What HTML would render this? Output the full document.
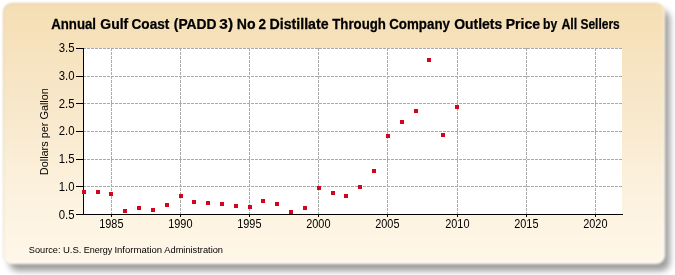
<!DOCTYPE html>
<html><head><meta charset="utf-8"><style>
html,body{margin:0;padding:0;width:675px;height:275px;overflow:hidden;background:#fff;}
#shadow{position:absolute;left:8.5px;top:9.5px;width:661px;height:261.8px;border-radius:9px;background:rgba(0,0,0,0.38);filter:blur(3px);}
#panel{position:absolute;left:3px;top:3px;width:661.5px;height:260.8px;border-radius:9px;
background:linear-gradient(to bottom,#f5deb3 0%,#f8e8cb 40%,#fcf1dd 70%,#fff7e9 100%);box-shadow:inset -1.5px -1.5px 1px rgba(255,255,255,0.6),inset 1px 1px 1px rgba(90,90,40,0.13);filter:blur(1px);}
svg{position:absolute;left:0;top:0;will-change:transform;}
.t{font-family:"Liberation Sans",sans-serif;font-size:11px;fill:#000;}
.tk{font-family:"Liberation Sans",sans-serif;font-size:12px;fill:#000;}
.title{font-family:"Liberation Sans",sans-serif;font-size:14px;font-weight:bold;fill:#000;stroke:#000;stroke-width:0.25px;}
.src{font-family:"Liberation Sans",sans-serif;font-size:9.5px;fill:#000;}
</style></head><body>
<div id="shadow"></div><div id="panel"></div>
<svg width="675" height="275" viewBox="0 0 675 275">
<rect x="83" y="48" width="539" height="166" fill="#fff"/>
<line x1="83" y1="48.5" x2="622" y2="48.5" stroke="#aaaaaa" stroke-width="1" stroke-dasharray="3 1"/>
<line x1="83" y1="76.5" x2="622" y2="76.5" stroke="#aaaaaa" stroke-width="1" stroke-dasharray="3 1"/>
<line x1="83" y1="103.5" x2="622" y2="103.5" stroke="#aaaaaa" stroke-width="1" stroke-dasharray="3 1"/>
<line x1="83" y1="131.5" x2="622" y2="131.5" stroke="#aaaaaa" stroke-width="1" stroke-dasharray="3 1"/>
<line x1="83" y1="159.5" x2="622" y2="159.5" stroke="#aaaaaa" stroke-width="1" stroke-dasharray="3 1"/>
<line x1="83" y1="186.5" x2="622" y2="186.5" stroke="#aaaaaa" stroke-width="1" stroke-dasharray="3 1"/>
<line x1="111.5" y1="48" x2="111.5" y2="214" stroke="#aaaaaa" stroke-width="1" stroke-dasharray="3 1"/>
<line x1="180.5" y1="48" x2="180.5" y2="214" stroke="#aaaaaa" stroke-width="1" stroke-dasharray="3 1"/>
<line x1="249.5" y1="48" x2="249.5" y2="214" stroke="#aaaaaa" stroke-width="1" stroke-dasharray="3 1"/>
<line x1="318.5" y1="48" x2="318.5" y2="214" stroke="#aaaaaa" stroke-width="1" stroke-dasharray="3 1"/>
<line x1="387.5" y1="48" x2="387.5" y2="214" stroke="#aaaaaa" stroke-width="1" stroke-dasharray="3 1"/>
<line x1="457.5" y1="48" x2="457.5" y2="214" stroke="#aaaaaa" stroke-width="1" stroke-dasharray="3 1"/>
<line x1="526.5" y1="48" x2="526.5" y2="214" stroke="#aaaaaa" stroke-width="1" stroke-dasharray="3 1"/>
<line x1="595.5" y1="48" x2="595.5" y2="214" stroke="#aaaaaa" stroke-width="1" stroke-dasharray="3 1"/>
<rect x="83" y="48" width="1" height="167" fill="#000"/>
<rect x="83" y="214" width="540" height="1" fill="#000"/>
<rect x="76" y="48" width="7" height="1" fill="#000"/>
<text transform="translate(74.6,51.6) scale(0.95,1)" text-anchor="end" class="tk">3.5</text>
<rect x="76" y="76" width="7" height="1" fill="#000"/>
<text transform="translate(74.6,79.7) scale(0.95,1)" text-anchor="end" class="tk">3.0</text>
<rect x="76" y="103" width="7" height="1" fill="#000"/>
<text transform="translate(74.6,107.7) scale(0.95,1)" text-anchor="end" class="tk">2.5</text>
<rect x="76" y="131" width="7" height="1" fill="#000"/>
<text transform="translate(74.6,134.6) scale(0.95,1)" text-anchor="end" class="tk">2.0</text>
<rect x="76" y="159" width="7" height="1" fill="#000"/>
<text transform="translate(74.6,162.5) scale(0.95,1)" text-anchor="end" class="tk">1.5</text>
<rect x="76" y="186" width="7" height="1" fill="#000"/>
<text transform="translate(74.6,190.7) scale(0.95,1)" text-anchor="end" class="tk">1.0</text>
<rect x="76" y="214" width="7" height="1" fill="#000"/>
<text transform="translate(74.6,218.7) scale(0.95,1)" text-anchor="end" class="tk">0.5</text>
<rect x="111" y="214" width="1" height="3" fill="#000"/>
<text transform="translate(111.3,227.6) scale(0.91,1)" text-anchor="middle" class="tk">1985</text>
<rect x="180" y="214" width="1" height="3" fill="#000"/>
<text transform="translate(180.3,227.6) scale(0.91,1)" text-anchor="middle" class="tk">1990</text>
<rect x="249" y="214" width="1" height="3" fill="#000"/>
<text transform="translate(249.3,227.6) scale(0.91,1)" text-anchor="middle" class="tk">1995</text>
<rect x="318" y="214" width="1" height="3" fill="#000"/>
<text transform="translate(318.3,227.6) scale(0.91,1)" text-anchor="middle" class="tk">2000</text>
<rect x="387" y="214" width="1" height="3" fill="#000"/>
<text transform="translate(387.3,227.6) scale(0.91,1)" text-anchor="middle" class="tk">2005</text>
<rect x="457" y="214" width="1" height="3" fill="#000"/>
<text transform="translate(457.3,227.6) scale(0.91,1)" text-anchor="middle" class="tk">2010</text>
<rect x="526" y="214" width="1" height="3" fill="#000"/>
<text transform="translate(526.3,227.6) scale(0.91,1)" text-anchor="middle" class="tk">2015</text>
<rect x="595" y="214" width="1" height="3" fill="#000"/>
<text transform="translate(595.3,227.6) scale(0.91,1)" text-anchor="middle" class="tk">2020</text>
<rect x="82" y="190" width="4" height="4" fill="#d2041e"/>
<rect x="96" y="190" width="4" height="4" fill="#d2041e"/>
<rect x="109" y="192" width="4" height="4" fill="#d2041e"/>
<rect x="123" y="209" width="4" height="4" fill="#d2041e"/>
<rect x="137" y="206" width="4" height="4" fill="#d2041e"/>
<rect x="151" y="208" width="4" height="4" fill="#d2041e"/>
<rect x="165" y="203" width="4" height="4" fill="#d2041e"/>
<rect x="179" y="194" width="4" height="4" fill="#d2041e"/>
<rect x="192" y="200" width="4" height="4" fill="#d2041e"/>
<rect x="206" y="201" width="4" height="4" fill="#d2041e"/>
<rect x="220" y="202" width="4" height="4" fill="#d2041e"/>
<rect x="234" y="204" width="4" height="4" fill="#d2041e"/>
<rect x="248" y="205" width="4" height="4" fill="#d2041e"/>
<rect x="261" y="199" width="4" height="4" fill="#d2041e"/>
<rect x="275" y="202" width="4" height="4" fill="#d2041e"/>
<rect x="289" y="210" width="4" height="4" fill="#d2041e"/>
<rect x="303" y="206" width="4" height="4" fill="#d2041e"/>
<rect x="317" y="186" width="4" height="4" fill="#d2041e"/>
<rect x="331" y="191" width="4" height="4" fill="#d2041e"/>
<rect x="344" y="194" width="4" height="4" fill="#d2041e"/>
<rect x="358" y="185" width="4" height="4" fill="#d2041e"/>
<rect x="372" y="169" width="4" height="4" fill="#d2041e"/>
<rect x="386" y="134" width="4" height="4" fill="#d2041e"/>
<rect x="400" y="120" width="4" height="4" fill="#d2041e"/>
<rect x="414" y="109" width="4" height="4" fill="#d2041e"/>
<rect x="427" y="58" width="4" height="4" fill="#d2041e"/>
<rect x="441" y="133" width="4" height="4" fill="#d2041e"/>
<rect x="455" y="105" width="4" height="4" fill="#d2041e"/>
<text transform="translate(51.20,28.9) scale(0.945,1)" class="title">Annual</text>
<text transform="translate(100.30,28.9) scale(0.996,1)" class="title">Gulf</text>
<text transform="translate(131.53,28.9) scale(0.974,1)" class="title">Coast</text>
<text transform="translate(173.81,28.9) scale(0.988,1)" class="title">(PADD</text>
<text transform="translate(219.35,28.9) scale(1.100,1)" class="title">3)</text>
<text transform="translate(236.79,28.9) scale(1.006,1)" class="title">No</text>
<text transform="translate(258.50,28.9) scale(0.971,1)" class="title">2</text>
<text transform="translate(269.49,28.9) scale(1.014,1)" class="title">Distillate</text>
<text transform="translate(332.30,28.9) scale(0.945,1)" class="title">Through</text>
<text transform="translate(389.25,28.9) scale(0.952,1)" class="title">Company</text>
<text transform="translate(454.20,28.9) scale(0.998,1)" class="title">Outlets</text>
<text transform="translate(505.70,28.9) scale(1.003,1)" class="title">Price</text>
<text transform="translate(543.03,28.9) scale(0.867,1)" class="title">by</text>
<text transform="translate(561.40,28.9) scale(0.888,1)" class="title">All</text>
<text transform="translate(580.44,28.9) scale(0.856,1)" class="title">Sellers</text>
<text transform="translate(28.73,253) scale(0.971,1)" class="src">Source:</text>
<text transform="translate(62.89,253) scale(1.006,1)" class="src">U.S.</text>
<text transform="translate(83.64,253) scale(0.955,1)" class="src">Energy</text>
<text transform="translate(114.39,253) scale(1.007,1)" class="src">Information</text>
<text transform="translate(164.30,253) scale(0.977,1)" class="src">Administration</text>
<text transform="translate(48,175.2) rotate(-90) scale(0.99,1)" class="t">Dollars per Gallon</text>
</svg>
</body></html>
